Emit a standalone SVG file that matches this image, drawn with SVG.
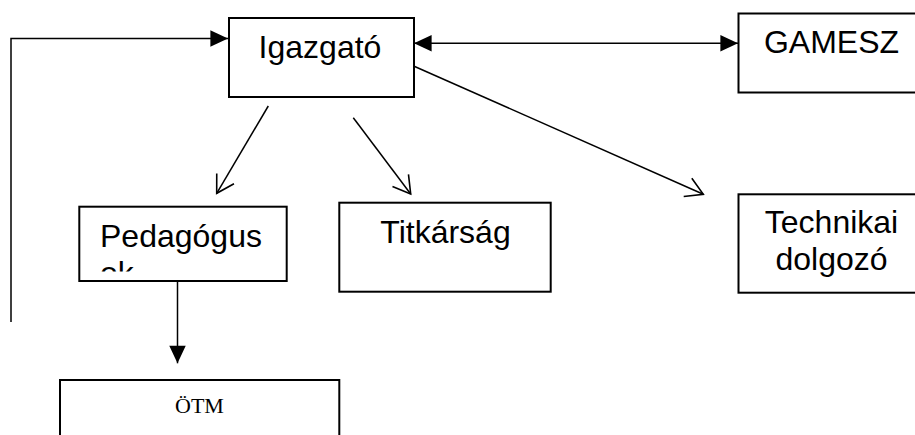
<svg xmlns="http://www.w3.org/2000/svg" width="915" height="435" viewBox="0 0 915 435">
<style>
.box{fill:#fff;stroke:#000;stroke-width:2}
.lbl{font-family:"Liberation Sans",Arial,sans-serif;font-size:32px;fill:#000}
.ser{font-family:"Liberation Serif","Times New Roman",serif;font-size:22px;fill:#000}
.con{fill:none;stroke:#000;stroke-width:1.5}
</style>
<defs>
<marker id="fill" markerUnits="userSpaceOnUse" markerWidth="20" markerHeight="20" viewBox="-16 -8 17 16" refX="0" refY="0" orient="auto-start-reverse">
<path d="M-15,-7 L0,0 L-15,7 Z" fill="#000"/>
</marker>
<marker id="open" markerUnits="userSpaceOnUse" markerWidth="24" markerHeight="24" viewBox="-20 -12 22 24" refX="0" refY="0" orient="auto">
<path d="M-17,-10 L0,0 L-17,10" fill="none" stroke="#000" stroke-width="1.6"/>
</marker>
<clipPath id="pedClip"><rect x="79" y="206" width="208" height="65.5"/></clipPath>
</defs>
<g id="connectors">
<polyline class="con" points="11,322 11,38.5 228,38.5" marker-end="url(#fill)"/>
<line class="con" x1="414" y1="43.3" x2="738" y2="43.3" marker-start="url(#fill)" marker-end="url(#fill)"/>
<line class="con" x1="268.3" y1="106" x2="216.7" y2="193.3" marker-end="url(#open)"/>
<line class="con" x1="353.3" y1="117.7" x2="410.7" y2="194" marker-end="url(#open)"/>
<line class="con" x1="413" y1="65.7" x2="703.3" y2="194.3" marker-end="url(#open)"/>
<line class="con" x1="177.5" y1="281" x2="177.5" y2="363.3" marker-end="url(#fill)"/>
</g>
<g id="igazgato">
<rect class="box" x="229" y="18" width="185" height="79"/>
<text class="lbl" x="320" y="58.3" text-anchor="middle">Igazgató</text>
</g>
<g id="gamesz">
<rect class="box" x="738.5" y="13.5" width="190" height="79"/>
<text class="lbl" x="831.5" y="53.3" text-anchor="middle">GAMESZ</text>
</g>
<g id="pedagogusok">
<rect class="box" x="79.3" y="206.7" width="207.4" height="74.3"/>
<text class="lbl" x="100" y="246.7" clip-path="url(#pedClip)">Pedagógus<tspan x="100" y="283.5">ok</tspan></text>
</g>
<g id="titkarsag">
<rect class="box" x="339.3" y="202.7" width="211.4" height="89"/>
<text class="lbl" x="445.5" y="243.3" text-anchor="middle">Titkárság</text>
</g>
<g id="technikai">
<rect class="box" x="738.5" y="194.3" width="190" height="98.4"/>
<text class="lbl" x="831.5" y="233.3" text-anchor="middle">Technikai</text>
<text class="lbl" x="831.5" y="270" text-anchor="middle">dolgozó</text>
</g>
<g id="otm">
<rect class="box" x="60" y="380" width="279.3" height="100"/>
<text class="ser" x="199.5" y="412.7" text-anchor="middle">ÖTM</text>
</g>
</svg>
